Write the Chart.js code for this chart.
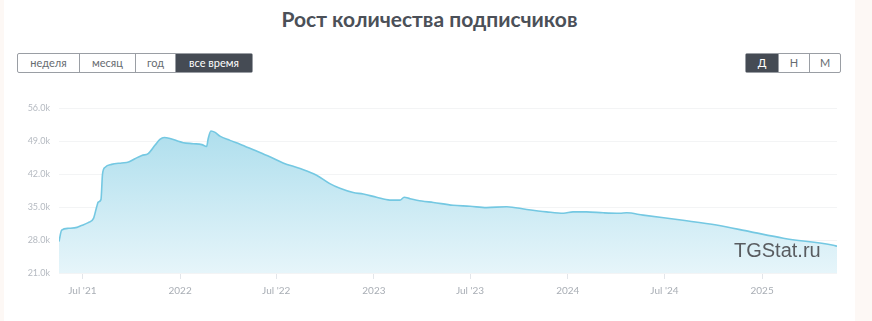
<!DOCTYPE html>
<html>
<head>
<meta charset="utf-8">
<script src="https://cdn.jsdelivr.net/npm/chart.js@4"></script>
<style>
  html, body { margin: 0; padding: 0; }
  body { width: 872px; height: 321px; background: #fdf8f5; position: relative; overflow: hidden; font-family: Lato, "Noto Sans", sans-serif; }
  .card { position: absolute; left: 4px; top: 0; width: 851px; height: 321px; background: #fff; }
  h1 { position: absolute; left: 4px; width: 851px; top: 6px; margin: 0; text-align: center; font-size: 21px; font-weight: 700; color: #4b5058; }
  .btns { position: absolute; top: 53px; display: flex; height: 20px; border: 1px solid #9a9ea4; border-radius: 2px; box-sizing: border-box; }
  .btns div { box-sizing: border-box; height: 18px; line-height: 18px; text-align: center; font-size: 11px; color: #666b70; border-left: 1px solid #9a9ea4; }
  .btns div:first-child { border-left: none; }
  .btns div.on { background: #454b54; color: #fff; }
  .wm { position: absolute; left: 734px; top: 239px; font-family: "Liberation Sans", Arial, sans-serif; font-size: 20px; color: #595c60; }
  #wrap { position: absolute; left: 0; top: 94px; width: 860px; height: 216px; }
</style>
</head>
<body>
<div class="card"></div>
<h1>Рост количества подписчиков</h1>
<div class="btns" style="left:17px;width:236px">
  <div style="width:61px">неделя</div><div style="width:56px">месяц</div><div style="width:40px">год</div><div class="on" style="width:77px">все время</div>
</div>
<div class="btns" style="left:745px;width:96px">
  <div class="on" style="width:32px">Д</div><div style="width:31px">Н</div><div style="width:31px">М</div>
</div>
<div id="wrap"><canvas id="subsChart"></canvas></div>
<div class="wm">TGStat.ru</div>
<script>
// даты замеров и число подписчиков
const dates = [
  '2021-05-18','2021-05-23','2021-06-05','2021-06-21','2021-06-27','2021-07-12','2021-07-22','2021-07-28',
  '2021-07-31','2021-08-05','2021-08-08','2021-08-13','2021-08-25','2021-09-13','2021-09-26','2021-10-08',
  '2021-10-21','2021-11-02','2021-11-15','2021-11-24','2021-12-02','2021-12-13','2021-12-26','2022-01-07',
  '2022-01-26','2022-02-11','2022-02-20','2022-02-23','2022-02-28','2022-03-08','2022-03-17','2022-04-05',
  '2022-04-24','2022-05-19','2022-06-19','2022-07-14','2022-08-15','2022-09-15','2022-10-10','2022-10-29',
  '2022-11-23','2022-12-12','2023-01-06','2023-01-31','2023-02-19','2023-02-27','2023-03-10','2023-04-01',
  '2023-04-23','2023-05-30','2023-07-01','2023-08-01','2023-09-08','2023-10-16','2023-11-22','2023-12-24',
  '2024-01-11','2024-02-05','2024-03-08','2024-04-08','2024-04-21','2024-05-22','2024-08-05','2024-10-07',
  '2024-12-09','2025-02-10','2025-05-15','2025-05-22'
];
const subscribers = [
  27700, 30100, 30500, 30700, 31000, 31700, 32600, 35100,
  36100, 36600, 42100, 43500, 44100, 44400, 44600, 45300,
  46000, 46400, 48200, 49400, 49800, 49600, 49100, 48700,
  48500, 48300, 47900, 49600, 51200, 50900, 50100, 49200,
  48400, 47200, 45700, 44400, 43200, 41800, 40000, 39000,
  38100, 37800, 37100, 36500, 36500, 37100, 36800, 36300,
  36000, 35400, 35200, 34900, 35100, 34500, 34000, 33700,
  34000, 34000, 33800, 33700, 33800, 33300, 32200, 31200,
  29800, 28400, 26900, 26700
];
const tickDates = ['2021-07-01','2022-01-01','2022-07-01','2023-01-01','2023-07-01','2024-01-01','2024-07-01','2025-01-01'];
const tickLabels = ["Jul '21", '2022', "Jul '22", '2023', "Jul '23", '2024', "Jul '24", '2025'];

function dayNum(s) {
  const p = s.split('-').map(Number);
  return (Date.UTC(p[0], p[1] - 1, p[2]) - Date.UTC(2021, 0, 1)) / 86400000;
}

const points = dates.map((d, i) => ({ x: dayNum(d), y: subscribers[i] }));
const tickPos = tickDates.map(dayNum);

const ctx = document.getElementById('subsChart').getContext('2d');

new Chart(ctx, {
  type: 'line',
  data: {
    datasets: [{
      data: points,
      borderColor: '#74c8e2',
      borderWidth: 1.6,
      pointRadius: 0,
      cubicInterpolationMode: 'monotone',
      fill: 'start',
      backgroundColor: (c) => {
        const area = c.chart.chartArea;
        if (!area) return '#c8e9f3';
        const g = c.chart.ctx.createLinearGradient(0, area.top, 0, area.bottom);
        g.addColorStop(0, '#a6dbeb');
        g.addColorStop(1, '#e6f5fa');
        return g;
      }
    }]
  },
  options: {
    responsive: true,
    maintainAspectRatio: false,
    animation: false,
    layout: { padding: { top: 2, right: 23, left: 0, bottom: 0 } },
    plugins: { legend: { display: false }, tooltip: { enabled: false } },
    scales: {
      x: {
        type: 'linear',
        min: dayNum(dates[0]),
        max: dayNum(dates[dates.length - 1]),
        afterBuildTicks: (scale) => { scale.ticks = tickPos.map(v => ({ value: v })); },
        afterFit: (scale) => { scale.height = 37; },
        border: { display: false },
        grid: { drawOnChartArea: false, drawTicks: true, tickLength: 6, color: '#e3e6ea' },
        ticks: {
          autoSkip: false,
          maxRotation: 0,
          padding: 6,
          color: '#a9aeb5',
          font: { family: 'Lato', size: 10 },
          callback: (v) => {
            const i = tickPos.indexOf(v);
            return i >= 0 ? tickLabels[i] : '';
          }
        }
      },
      y: {
        min: 21000,
        max: 56000,
        afterFit: (scale) => { scale.width = 59; },
        border: { display: false },
        grid: { color: '#f3f4f5', drawTicks: false },
        ticks: {
          stepSize: 7000,
          padding: 9,
          color: '#b5bac1',
          font: { family: 'Lato', size: 9 },
          callback: (v) => (v / 1000).toFixed(1) + 'k'
        }
      }
    }
  }
});
</script>
</body>
</html>
